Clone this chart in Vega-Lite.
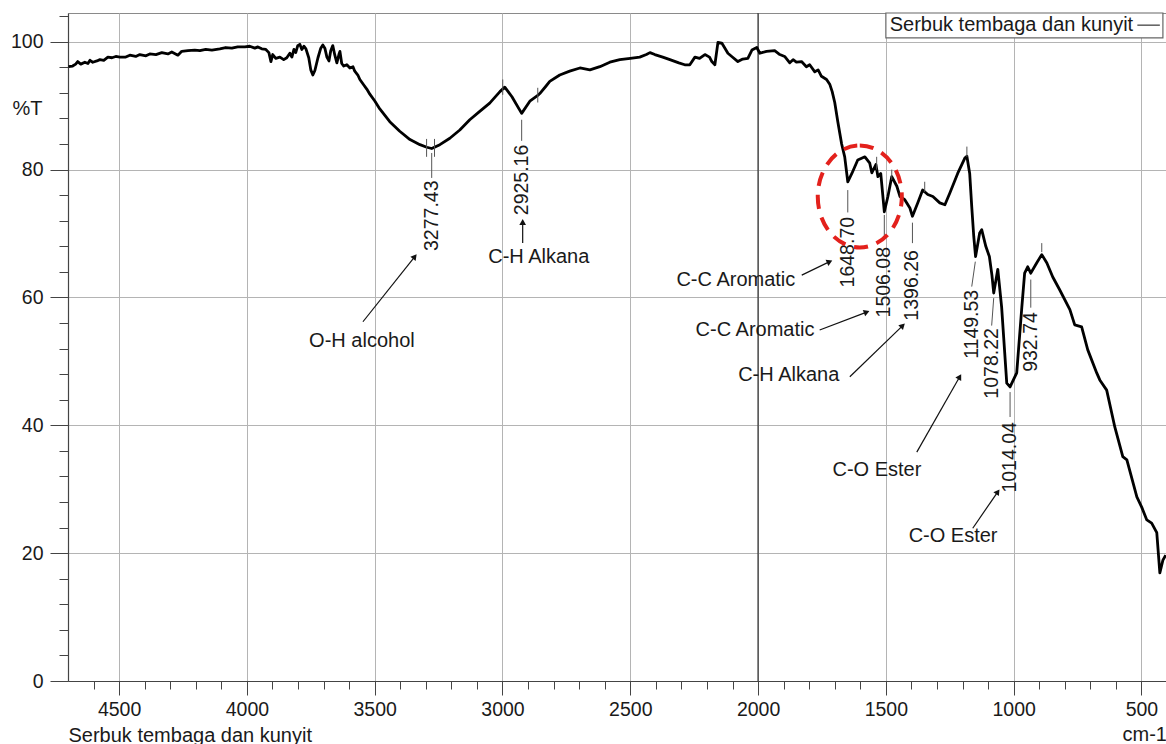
{
  "$schema": "https://vega.github.io/schema/vega-lite/v6.json",
  "width": 1099,
  "height": 668,
  "autosize": {"type": "none"},
  "padding": {"left": 68, "top": 13, "right": 0, "bottom": 63},
  "background": "white",
  "config": {
    "view": {"stroke": "#8a8a8a", "strokeWidth": 1},
    "font": "Liberation Sans",
    "text": {"font": "Liberation Sans", "color": "#1a1a1a"}
  },
  "datasets": {
    "spectrum": [
      {"wn": 4698, "t": 96.1}, {"wn": 4682, "t": 96.2}, {"wn": 4670, "t": 96.5}, {"wn": 4662, "t": 96.9},
      {"wn": 4650, "t": 96.5}, {"wn": 4634, "t": 96.8}, {"wn": 4622, "t": 96.6}, {"wn": 4614, "t": 97.1},
      {"wn": 4603, "t": 96.8}, {"wn": 4587, "t": 97.0}, {"wn": 4575, "t": 97.2}, {"wn": 4560, "t": 97.1},
      {"wn": 4544, "t": 97.6}, {"wn": 4528, "t": 97.5}, {"wn": 4513, "t": 97.7}, {"wn": 4497, "t": 97.6},
      {"wn": 4474, "t": 97.6}, {"wn": 4458, "t": 97.9}, {"wn": 4435, "t": 97.7}, {"wn": 4419, "t": 98.0},
      {"wn": 4395, "t": 97.8}, {"wn": 4380, "t": 98.1}, {"wn": 4356, "t": 98.0}, {"wn": 4333, "t": 98.3},
      {"wn": 4309, "t": 98.1}, {"wn": 4294, "t": 98.4}, {"wn": 4270, "t": 97.9}, {"wn": 4255, "t": 98.5},
      {"wn": 4231, "t": 98.6}, {"wn": 4204, "t": 98.7}, {"wn": 4184, "t": 98.6}, {"wn": 4161, "t": 98.8},
      {"wn": 4137, "t": 98.7}, {"wn": 4106, "t": 98.9}, {"wn": 4083, "t": 99.1}, {"wn": 4059, "t": 99.0},
      {"wn": 4036, "t": 99.2}, {"wn": 4008, "t": 99.2}, {"wn": 3989, "t": 99.3}, {"wn": 3969, "t": 99.0},
      {"wn": 3957, "t": 99.2}, {"wn": 3942, "t": 98.9}, {"wn": 3926, "t": 98.8}, {"wn": 3914, "t": 98.3},
      {"wn": 3906, "t": 96.9}, {"wn": 3899, "t": 98.0}, {"wn": 3887, "t": 97.4}, {"wn": 3871, "t": 97.6},
      {"wn": 3856, "t": 97.2}, {"wn": 3844, "t": 97.5}, {"wn": 3832, "t": 98.2}, {"wn": 3824, "t": 97.6},
      {"wn": 3816, "t": 98.8}, {"wn": 3809, "t": 98.3}, {"wn": 3801, "t": 99.4}, {"wn": 3793, "t": 99.6},
      {"wn": 3785, "t": 98.8}, {"wn": 3777, "t": 99.3}, {"wn": 3769, "t": 98.9}, {"wn": 3758, "t": 97.5},
      {"wn": 3750, "t": 95.6}, {"wn": 3742, "t": 94.8}, {"wn": 3734, "t": 95.5}, {"wn": 3722, "t": 97.5},
      {"wn": 3711, "t": 99.0}, {"wn": 3703, "t": 99.5}, {"wn": 3695, "t": 99.0}, {"wn": 3687, "t": 97.6},
      {"wn": 3679, "t": 97.0}, {"wn": 3672, "t": 98.6}, {"wn": 3664, "t": 99.4}, {"wn": 3656, "t": 97.9},
      {"wn": 3648, "t": 96.7}, {"wn": 3640, "t": 98.0}, {"wn": 3636, "t": 98.5}, {"wn": 3629, "t": 96.6},
      {"wn": 3621, "t": 96.2}, {"wn": 3609, "t": 96.4}, {"wn": 3597, "t": 95.9}, {"wn": 3585, "t": 96.1},
      {"wn": 3578, "t": 95.4}, {"wn": 3566, "t": 94.8}, {"wn": 3558, "t": 94.1}, {"wn": 3542, "t": 93.2},
      {"wn": 3531, "t": 92.6}, {"wn": 3519, "t": 91.8}, {"wn": 3499, "t": 90.7}, {"wn": 3480, "t": 89.5},
      {"wn": 3441, "t": 87.5}, {"wn": 3402, "t": 86.0}, {"wn": 3362, "t": 84.7}, {"wn": 3323, "t": 83.9},
      {"wn": 3296, "t": 83.5}, {"wn": 3277, "t": 83.3}, {"wn": 3245, "t": 83.9}, {"wn": 3206, "t": 84.9},
      {"wn": 3167, "t": 86.2}, {"wn": 3128, "t": 87.8}, {"wn": 3089, "t": 89.1}, {"wn": 3050, "t": 90.4},
      {"wn": 3010, "t": 92.2}, {"wn": 2991, "t": 92.9}, {"wn": 2963, "t": 91.4}, {"wn": 2925, "t": 88.8},
      {"wn": 2893, "t": 90.7}, {"wn": 2862, "t": 91.6}, {"wn": 2854, "t": 91.9}, {"wn": 2831, "t": 93.0},
      {"wn": 2815, "t": 93.8}, {"wn": 2776, "t": 94.8}, {"wn": 2737, "t": 95.4}, {"wn": 2697, "t": 95.9},
      {"wn": 2658, "t": 95.6}, {"wn": 2619, "t": 96.1}, {"wn": 2580, "t": 96.8}, {"wn": 2541, "t": 97.2},
      {"wn": 2500, "t": 97.4}, {"wn": 2463, "t": 97.6}, {"wn": 2437, "t": 98.0}, {"wn": 2423, "t": 98.3},
      {"wn": 2404, "t": 98.0}, {"wn": 2373, "t": 97.6}, {"wn": 2345, "t": 97.2}, {"wn": 2310, "t": 96.7},
      {"wn": 2287, "t": 96.4}, {"wn": 2267, "t": 96.4}, {"wn": 2247, "t": 97.6}, {"wn": 2229, "t": 97.4},
      {"wn": 2208, "t": 98.0}, {"wn": 2190, "t": 97.6}, {"wn": 2181, "t": 96.9}, {"wn": 2169, "t": 96.4},
      {"wn": 2157, "t": 99.9}, {"wn": 2142, "t": 99.8}, {"wn": 2118, "t": 98.2}, {"wn": 2103, "t": 97.7},
      {"wn": 2079, "t": 96.9}, {"wn": 2060, "t": 97.3}, {"wn": 2040, "t": 97.4}, {"wn": 2024, "t": 98.7},
      {"wn": 2005, "t": 99.1}, {"wn": 1993, "t": 98.2}, {"wn": 1967, "t": 98.5}, {"wn": 1935, "t": 98.6},
      {"wn": 1915, "t": 98.0}, {"wn": 1896, "t": 97.7}, {"wn": 1876, "t": 96.7}, {"wn": 1863, "t": 97.2},
      {"wn": 1850, "t": 96.8}, {"wn": 1830, "t": 96.9}, {"wn": 1811, "t": 96.1}, {"wn": 1798, "t": 96.4},
      {"wn": 1778, "t": 95.3}, {"wn": 1765, "t": 95.6}, {"wn": 1752, "t": 94.6}, {"wn": 1732, "t": 94.1},
      {"wn": 1719, "t": 93.3}, {"wn": 1710, "t": 92.2},
      {"wn": 1700, "t": 90.5}, {"wn": 1688, "t": 87.5}, {"wn": 1673, "t": 84.0}, {"wn": 1661, "t": 82.0},
      {"wn": 1649, "t": 78.1}, {"wn": 1633, "t": 79.4}, {"wn": 1610, "t": 81.5}, {"wn": 1582, "t": 82.0},
      {"wn": 1563, "t": 81.0}, {"wn": 1555, "t": 79.5}, {"wn": 1539, "t": 80.8}, {"wn": 1531, "t": 78.9},
      {"wn": 1520, "t": 79.4}, {"wn": 1506, "t": 73.4}, {"wn": 1492, "t": 75.8}, {"wn": 1477, "t": 78.9},
      {"wn": 1457, "t": 77.4}, {"wn": 1445, "t": 75.8}, {"wn": 1426, "t": 75.3}, {"wn": 1406, "t": 74.0},
      {"wn": 1396, "t": 72.7}, {"wn": 1375, "t": 74.8}, {"wn": 1356, "t": 76.8}, {"wn": 1336, "t": 76.1},
      {"wn": 1316, "t": 75.8}, {"wn": 1289, "t": 74.8}, {"wn": 1269, "t": 74.5}, {"wn": 1250, "t": 76.3},
      {"wn": 1219, "t": 79.4}, {"wn": 1191, "t": 81.8}, {"wn": 1183, "t": 82.1}, {"wn": 1172, "t": 79.4},
      {"wn": 1164, "t": 74.2}, {"wn": 1156, "t": 69.5}, {"wn": 1149, "t": 66.4}, {"wn": 1133, "t": 70.1},
      {"wn": 1125, "t": 70.6}, {"wn": 1109, "t": 68.0}, {"wn": 1095, "t": 66.4}, {"wn": 1085, "t": 63.5},
      {"wn": 1078, "t": 60.7}, {"wn": 1062, "t": 64.4}, {"wn": 1047, "t": 58.5}, {"wn": 1027, "t": 46.6},
      {"wn": 1014, "t": 46.0}, {"wn": 988, "t": 48.2}, {"wn": 968, "t": 58.5}, {"wn": 957, "t": 63.8},
      {"wn": 945, "t": 64.8}, {"wn": 933, "t": 63.8}, {"wn": 910, "t": 65.4}, {"wn": 890, "t": 66.7},
      {"wn": 870, "t": 65.4}, {"wn": 847, "t": 63.2}, {"wn": 820, "t": 61.2}, {"wn": 780, "t": 58.1},
      {"wn": 761, "t": 55.7}, {"wn": 734, "t": 55.4}, {"wn": 710, "t": 51.8}, {"wn": 675, "t": 48.2},
      {"wn": 663, "t": 47.1}, {"wn": 636, "t": 45.5}, {"wn": 604, "t": 39.7}, {"wn": 573, "t": 35.1},
      {"wn": 557, "t": 34.6}, {"wn": 518, "t": 28.8}, {"wn": 499, "t": 27.2}, {"wn": 479, "t": 25.2},
      {"wn": 460, "t": 24.7}, {"wn": 440, "t": 23.2}, {"wn": 428, "t": 16.9}, {"wn": 416, "t": 18.9},
      {"wn": 405, "t": 19.7}
    ],
    "divider": [{"wn": 2000, "t": 0, "t2": 104.5}],
    "peakLabels": [
      {"label": "3277.43", "wn": 3277, "t": 78.3},
      {"label": "2925.16", "wn": 2925, "t": 83.9},
      {"label": "1648.70", "wn": 1649, "t": 72.6},
      {"label": "1506.08", "wn": 1506, "t": 67.9},
      {"label": "1396.26", "wn": 1396, "t": 67.4},
      {"label": "1149.53", "wn": 1164, "t": 61.2},
      {"label": "1078.22", "wn": 1086, "t": 55.2},
      {"label": "1014.04", "wn": 1014, "t": 40.5},
      {"label": "932.74", "wn": 933, "t": 57.7}
    ],
    "connectors": [
      {"wn": 3277, "t": 82.6, "wn2": 3277, "t2": 78.7},
      {"wn": 2925, "t": 87.8, "wn2": 2925, "t2": 84.5},
      {"wn": 1649, "t": 76.8, "wn2": 1649, "t2": 73.3},
      {"wn": 1506, "t": 72.9, "wn2": 1506, "t2": 69.3},
      {"wn": 1396, "t": 71.7, "wn2": 1396, "t2": 68.5},
      {"wn": 1150, "t": 65.6, "wn2": 1164, "t2": 61.7},
      {"wn": 1078, "t": 59.9, "wn2": 1086, "t2": 55.6},
      {"wn": 1014, "t": 45.2, "wn2": 1014, "t2": 41.3},
      {"wn": 933, "t": 62.8, "wn2": 933, "t2": 58.4},
      {"wn": 3297, "t": 84.8, "wn2": 3297, "t2": 82.0},
      {"wn": 3266, "t": 84.8, "wn2": 3266, "t2": 82.0},
      {"wn": 2999, "t": 94.1, "wn2": 2999, "t2": 91.7},
      {"wn": 2862, "t": 92.8, "wn2": 2862, "t2": 90.5},
      {"wn": 1536, "t": 82.0, "wn2": 1536, "t2": 80.0},
      {"wn": 1477, "t": 80.0, "wn2": 1477, "t2": 78.4},
      {"wn": 1348, "t": 78.1, "wn2": 1348, "t2": 76.5},
      {"wn": 1183, "t": 83.6, "wn2": 1183, "t2": 82.0},
      {"wn": 890, "t": 68.5, "wn2": 890, "t2": 67.1}
    ],
    "notes": [
      {"text": "O-H alcohol", "wn": 3550, "t": 53.2},
      {"text": "C-H Alkana", "wn": 2858, "t": 66.4},
      {"text": "C-C Aromatic", "wn": 2087, "t": 62.8},
      {"text": "C-C Aromatic", "wn": 2012, "t": 54.9},
      {"text": "C-H Alkana", "wn": 1880, "t": 47.9},
      {"text": "C-O Ester", "wn": 1535, "t": 33.0},
      {"text": "C-O Ester", "wn": 1237, "t": 22.7}
    ],
    "arrows": [
      {"id": 1, "wn": 3343, "t": 66.4, "wn2": 3546, "t2": 56.2},
      {"id": 2, "wn": 2921, "t": 71.8, "wn2": 2921, "t2": 68.5},
      {"id": 3, "wn": 1720, "t": 65.6, "wn2": 1829, "t2": 63.5},
      {"id": 4, "wn": 1575, "t": 57.7, "wn2": 1759, "t2": 54.9},
      {"id": 5, "wn": 1434, "t": 55.6, "wn2": 1641, "t2": 47.6},
      {"id": 6, "wn": 1211, "t": 47.6, "wn2": 1379, "t2": 35.8},
      {"id": 7, "wn": 1062, "t": 29.6, "wn2": 1160, "t2": 23.9}
    ],
    "highlight": [{"wn": 1602, "t": 75.8}],
    "legendBox": [{"wn": 1500, "t": 100.6, "wn2": 416, "t2": 104.5}],
    "legendText": [{"text": "Serbuk tembaga dan kunyit", "wn": 1485, "t": 102.6}],
    "legendLine": [{"wn": 516, "t": 102.6, "wn2": 428, "t2": 102.6}],
    "unitLabel": [{"text": "cm-1", "wn": 400, "t": -8.5}]
  },
  "encoding": {
    "x": {
      "field": "wn",
      "type": "quantitative",
      "scale": {"domain": [4700, 400], "nice": false, "zero": false},
      "axis": {
        "title": "Serbuk tembaga dan kunyit",
        "values": [4600, 4500, 4400, 4300, 4200, 4100, 4000, 3900, 3800, 3700, 3600, 3500, 3400, 3300, 3200, 3100, 3000, 2900, 2800, 2700, 2600, 2500, 2400, 2300, 2200, 2100, 2000, 1900, 1800, 1700, 1600, 1500, 1400, 1300, 1200, 1100, 1000, 900, 800, 700, 600, 500, 400],
        "format": "d",
        "labelExpr": "datum.value % 500 === 0 ? datum.label : ''",
        "tickSize": {"condition": {"test": "datum.value % 500 === 0", "value": 14}, "value": 8},
        "gridOpacity": {"condition": {"test": "datum.value % 500 === 0", "value": 1}, "value": 0},
        "grid": true,
        "gridColor": "#b4b4b4",
        "gridWidth": 1,
        "tickColor": "#444",
        "tickWidth": 1,
        "domainColor": "#444",
        "domainWidth": 1.2,
        "labelFont": "Liberation Sans",
        "labelFontSize": 19.5,
        "labelColor": "#1a1a1a",
        "labelPadding": 5,
        "labelFlush": false,
        "labelOverlap": false,
        "titleFont": "Liberation Sans",
        "titleFontSize": 20,
        "titleFontWeight": "normal",
        "titleColor": "#1a1a1a",
        "titleAnchor": "start",
        "titleAlign": "left",
        "titleBaseline": "middle",
        "titleX": 0,
        "titleY": 54
      }
    },
    "y": {
      "field": "t",
      "type": "quantitative",
      "scale": {"domain": [0, 104.5], "nice": false, "zero": false},
      "axis": {
        "title": "%T",
        "values": [0, 4, 8, 12, 16, 20, 24, 28, 32, 36, 40, 44, 48, 52, 56, 60, 64, 68, 72, 76, 80, 84, 88, 92, 96, 100, 104],
        "labelExpr": "datum.value % 20 === 0 ? datum.label : ''",
        "tickSize": {"condition": {"test": "datum.value % 20 === 0", "value": 18}, "value": 9},
        "gridOpacity": {"condition": {"test": "datum.value % 20 === 0", "value": 1}, "value": 0},
        "grid": true,
        "gridColor": "#b4b4b4",
        "gridWidth": 1,
        "tickColor": "#444",
        "tickWidth": 1,
        "domainColor": "#444",
        "domainWidth": 1.2,
        "labelFont": "Liberation Sans",
        "labelFontSize": 19.5,
        "labelColor": "#1a1a1a",
        "labelPadding": 7,
        "labelFlush": false,
        "labelOverlap": false,
        "titleFont": "Liberation Sans",
        "titleFontSize": 20,
        "titleFontWeight": "normal",
        "titleColor": "#1a1a1a",
        "titleAngle": 0,
        "titleAlign": "left",
        "titleBaseline": "middle",
        "titleX": -56,
        "titleY": 95
      }
    }
  },
  "layer": [
    {
      "data": {"name": "divider"},
      "mark": {"type": "rule", "color": "#3a3a3a", "strokeWidth": 1.3},
      "encoding": {"y2": {"field": "t2"}}
    },
    {
      "data": {"name": "spectrum"},
      "mark": {"type": "line", "color": "#000000", "strokeWidth": 2.8, "strokeJoin": "round"},
      "encoding": {}
    },
    {
      "data": {"name": "connectors"},
      "mark": {"type": "rule", "color": "#555555", "strokeWidth": 1},
      "encoding": {"x2": {"field": "wn2"}, "y2": {"field": "t2"}}
    },
    {
      "data": {"name": "peakLabels"},
      "mark": {"type": "text", "angle": 270, "align": "right", "baseline": "middle", "fontSize": 19.5, "font": "Liberation Sans", "color": "#1a1a1a"},
      "encoding": {"text": {"field": "label"}}
    },
    {
      "data": {"name": "notes"},
      "mark": {"type": "text", "align": "center", "baseline": "middle", "fontSize": 20, "font": "Liberation Sans", "color": "#1a1a1a"},
      "encoding": {"text": {"field": "text"}}
    },
    {
      "data": {"name": "arrows"},
      "mark": {"type": "rule", "color": "#111111", "strokeWidth": 1.2},
      "encoding": {"x2": {"field": "wn2"}, "y2": {"field": "t2"}}
    },
    {"data": {"name": "arrows"}, "transform": [{"filter": "datum.id == 1"}], "mark": {"type": "point", "shape": "triangle-up", "filled": true, "opacity": 1, "size": 45, "angle": 38.7, "color": "#111111"}, "encoding": {}},
    {"data": {"name": "arrows"}, "transform": [{"filter": "datum.id == 2"}], "mark": {"type": "point", "shape": "triangle-up", "filled": true, "opacity": 1, "size": 45, "angle": 0, "color": "#111111"}, "encoding": {}},
    {"data": {"name": "arrows"}, "transform": [{"filter": "datum.id == 3"}], "mark": {"type": "point", "shape": "triangle-up", "filled": true, "opacity": 1, "size": 45, "angle": 65, "color": "#111111"}, "encoding": {}},
    {"data": {"name": "arrows"}, "transform": [{"filter": "datum.id == 4"}], "mark": {"type": "point", "shape": "triangle-up", "filled": true, "opacity": 1, "size": 45, "angle": 69, "color": "#111111"}, "encoding": {}},
    {"data": {"name": "arrows"}, "transform": [{"filter": "datum.id == 5"}], "mark": {"type": "point", "shape": "triangle-up", "filled": true, "opacity": 1, "size": 45, "angle": 46, "color": "#111111"}, "encoding": {}},
    {"data": {"name": "arrows"}, "transform": [{"filter": "datum.id == 6"}], "mark": {"type": "point", "shape": "triangle-up", "filled": true, "opacity": 1, "size": 45, "angle": 30, "color": "#111111"}, "encoding": {}},
    {"data": {"name": "arrows"}, "transform": [{"filter": "datum.id == 7"}], "mark": {"type": "point", "shape": "triangle-up", "filled": true, "opacity": 1, "size": 45, "angle": 35, "color": "#111111"}, "encoding": {}},
    {
      "data": {"name": "highlight"},
      "mark": {
        "type": "point",
        "shape": "M 0 -1 C 0.455 -1 0.824 -0.5523 0.824 0 C 0.824 0.5523 0.455 1 0 1 C -0.455 1 -0.824 0.5523 -0.824 0 C -0.824 -0.5523 -0.455 -1 0 -1 Z",
        "size": 10404,
        "filled": false,
        "opacity": 1,
        "stroke": "#e3211c",
        "strokeWidth": 4,
        "strokeDash": [14, 9]
      },
      "encoding": {}
    },
    {
      "data": {"name": "legendBox"},
      "mark": {"type": "rect", "fill": "white", "stroke": "#666666", "strokeWidth": 1.2},
      "encoding": {"x2": {"field": "wn2"}, "y2": {"field": "t2"}}
    },
    {
      "data": {"name": "legendText"},
      "mark": {"type": "text", "align": "left", "baseline": "middle", "fontSize": 20, "font": "Liberation Sans", "color": "#1a1a1a"},
      "encoding": {"text": {"field": "text"}}
    },
    {
      "data": {"name": "legendLine"},
      "mark": {"type": "rule", "color": "#333333", "strokeWidth": 1.2},
      "encoding": {"x2": {"field": "wn2"}, "y2": {"field": "t2"}}
    },
    {
      "data": {"name": "unitLabel"},
      "mark": {"type": "text", "align": "right", "baseline": "middle", "fontSize": 20, "font": "Liberation Sans", "color": "#1a1a1a"},
      "encoding": {"text": {"field": "text"}}
    }
  ]
}
